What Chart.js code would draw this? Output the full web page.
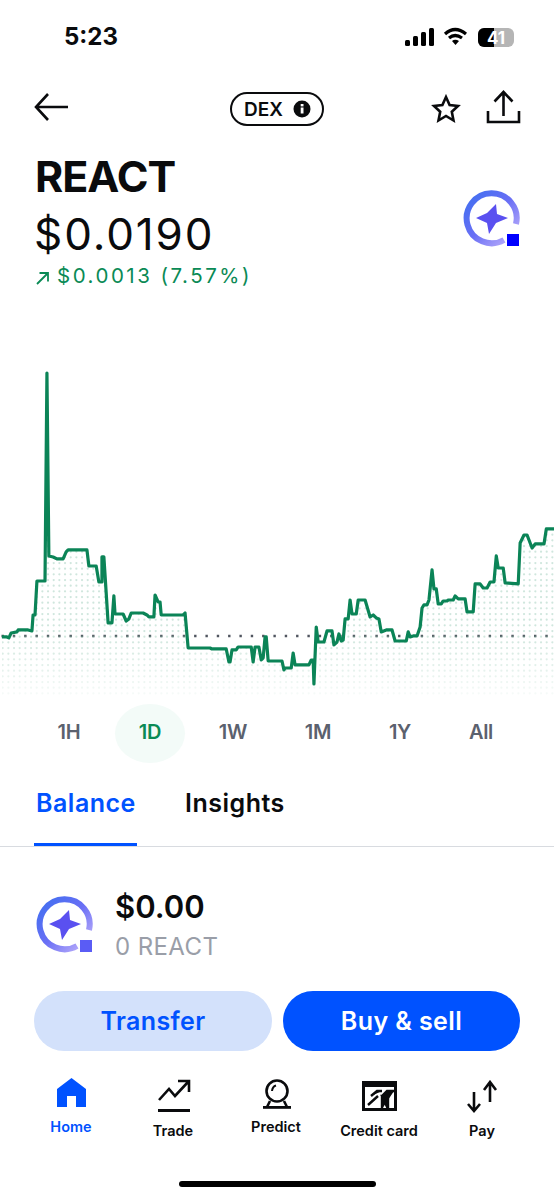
<!DOCTYPE html>
<html>
<head>
<meta charset="utf-8">
<title>REACT</title>
<script src="https://cdn.jsdelivr.net/npm/chart.js@4/dist/chart.umd.min.js"></script>
<style>
html, body { margin: 0; padding: 0; background: #fff; overflow: hidden; }
#page { position: relative; width: 554px; height: 1199px; font-family: Inter, "Noto Sans", sans-serif; color: #0a0b0d; overflow: hidden; }
#page > * { position: absolute; }
.t { white-space: nowrap; line-height: 1; }
.c { transform: translateX(-50%); }
.range { top: 722px; font-size: 20px; font-weight: 600; color: #5b616e; letter-spacing: -0.3px; }
.nav { font-size: 14.5px; font-weight: 600; }
#chartBox { left: 0; top: 360px; width: 554px; height: 340px; }
.btn { top: 991px; height: 60px; border-radius: 30px; text-align: center; line-height: 60px; font-size: 25px; font-weight: 600; letter-spacing: 0.4px; }
</style>
</head>
<body>
<div id="page">
  <div class="t" style="left:64px;top:25px;font-size:24px;font-weight:700;">5:23</div>
  <svg style="left:404px;top:26px" width="114" height="24" viewBox="0 0 114 24">
    <rect x="1" y="14" width="5" height="6" rx="1.5" fill="#000"/><rect x="9" y="10" width="5" height="10" rx="1.5" fill="#000"/>
    <rect x="17" y="6" width="5" height="14" rx="1.5" fill="#000"/><rect x="25" y="2" width="5" height="18" rx="1.5" fill="#000"/>
    <path d="M41 8 Q51 -1 62 8 M45 12 Q51 7 58 12" fill="none" stroke="#000" stroke-width="3.2"/><path d="M48 15 Q51 12.5 55 15 L51.5 19 Z" fill="#000"/>
    <rect x="74" y="2" width="36" height="19" rx="6" fill="#b5b5b5"/><path d="M80 2 H90 V21 H80 A6 6 0 0 1 74 15 V8 A6 6 0 0 1 80 2 Z" fill="#000"/>
    <text x="92" y="17.5" text-anchor="middle" font-family="Inter" font-size="17" font-weight="700" fill="#fff">41</text>
  </svg>

  <svg style="left:34px;top:92px" width="36" height="30" viewBox="0 0 36 30"><path d="M14 2 L2 15 L14 28 M2 15 H34" fill="none" stroke="#0a0b0d" stroke-width="2.6"/></svg>
  <div style="left:230px;top:92px;width:90px;height:30px;border:2px solid #0a0b0d;border-radius:17px;"></div>
  <div class="t" style="left:244px;top:100px;font-size:19px;font-weight:600;">DEX</div>
  <svg style="left:293px;top:100px" width="18" height="18" viewBox="0 0 18 18"><circle cx="9" cy="9" r="8.5" fill="#0a0b0d"/><rect x="7.7" y="7.5" width="2.8" height="6" fill="#fff"/><rect x="7.7" y="4" width="2.8" height="2.4" fill="#fff"/></svg>
  <svg style="left:431px;top:94px" width="30" height="30" viewBox="0 0 30 30"><path d="M15 3 L18.6 11 L27 12 L20.8 17.8 L22.5 26.5 L15 22 L7.5 26.5 L9.2 17.8 L3 12 L11.4 11 Z" fill="none" stroke="#0a0b0d" stroke-width="2.6"/></svg>
  <svg style="left:486px;top:90px" width="36" height="34" viewBox="0 0 36 34"><path d="M2 21 V32 H33 V21 M17.5 26 V3 M8.5 11.5 L17.5 2 L26.5 11.5" fill="none" stroke="#0a0b0d" stroke-width="2.6"/></svg>

  <div class="t" style="left:35px;top:155px;font-size:43px;font-weight:700;letter-spacing:-1px;">REACT</div>
  <div class="t" style="left:34px;top:212px;font-size:44px;font-weight:400;letter-spacing:1.9px;">$0.0190</div>
  <svg style="left:35px;top:270px" width="16" height="16" viewBox="0 0 16 16"><path d="M2 14 L13 3 M4.5 3 H13 V11.5" fill="none" stroke="#0a8a55" stroke-width="1.8"/></svg>
  <div class="t" style="left:57px;top:266px;font-size:20.5px;color:#0a8a55;letter-spacing:2.5px;">$0.0013 (7.57%)</div>

  <svg style="left:462px;top:189px" width="60" height="60" viewBox="0 0 60 60">
    <defs><linearGradient id="g1" x1="0" y1="0" x2="1" y2="1"><stop offset="0" stop-color="#3f6ff0"/><stop offset="0.5" stop-color="#6a6ff5"/><stop offset="1" stop-color="#c4b5fb"/></linearGradient></defs>
    <path d="M42 51 A25 25 0 1 1 54 35" fill="none" stroke="url(#g1)" stroke-width="6"/>
    <path d="M34 15 L35 25 L46 29 L34 34 L27 45 L25 34 L14 29 L25 24 Z" fill="#5a50f0"/>
    <rect x="45" y="45" width="12" height="12" fill="#0000ff"/>
  </svg>

  <div id="chartBox"><canvas id="chart" width="554" height="340"></canvas></div>

  <div style="left:115px;top:704px;width:70px;height:59px;border-radius:50%;background:#f3fbf8;"></div>
  <div class="t range c" style="left:69px;">1H</div>
  <div class="t range c" style="left:150px;color:#0a8a55;">1D</div>
  <div class="t range c" style="left:233px;">1W</div>
  <div class="t range c" style="left:318px;">1M</div>
  <div class="t range c" style="left:400px;">1Y</div>
  <div class="t range c" style="left:481px;">All</div>

  <div class="t" style="left:36px;top:791px;font-size:25px;font-weight:600;color:#0052ff;letter-spacing:0.5px;">Balance</div>
  <div class="t" style="left:185px;top:791px;font-size:25px;font-weight:600;letter-spacing:0.5px;">Insights</div>
  <div style="left:0;top:846px;width:554px;height:1px;background:#d8dbe0;"></div>
  <div style="left:34px;top:843px;width:103px;height:3px;background:#0052ff;"></div>

  <svg style="left:35px;top:895px" width="60" height="60" viewBox="0 0 60 60">
    <path d="M42 51 A25 25 0 1 1 54 35" fill="none" stroke="url(#g1)" stroke-width="6"/>
    <path d="M34 15 L35 25 L46 29 L34 34 L27 45 L25 34 L14 29 L25 24 Z" fill="#5a50f0"/>
    <rect x="45" y="45" width="12" height="12" fill="#5a5cf5"/>
  </svg>
  <div class="t" style="left:115px;top:891px;font-size:31px;font-weight:600;">$0.00</div>
  <div class="t" style="left:115px;top:935px;font-size:24px;color:#9a9ea8;letter-spacing:0.4px;">0 REACT</div>

  <div class="btn" style="left:34px;width:238px;background:#d3e1fb;color:#0052ff;">Transfer</div>
  <div class="btn" style="left:283px;width:237px;background:#0052ff;color:#fff;">Buy &amp; sell</div>

  <svg style="left:56px;top:1078px" width="31" height="30" viewBox="0 0 31 30"><path d="M15.5 0 L30 11 V29 H20 V18 H11 V29 H1 V11 Z" fill="#0052ff"/></svg>
  <div class="t nav c" style="left:71px;top:1120px;color:#0052ff;">Home</div>
  <svg style="left:157px;top:1079px" width="34" height="34" viewBox="0 0 34 34"><path d="M2 21 L12 10 L18 17 L31 3 M21 2 H32 V13" fill="none" stroke="#0a0b0d" stroke-width="2.6"/><rect x="1" y="30" width="32" height="3" fill="#0a0b0d"/></svg>
  <div class="t nav c" style="left:173px;top:1124px;">Trade</div>
  <svg style="left:262px;top:1078px" width="30" height="32" viewBox="0 0 30 32"><circle cx="15" cy="13" r="10.5" fill="none" stroke="#0a0b0d" stroke-width="2.6"/><path d="M8 23 L5 29 M22 23 L25 29" stroke="#0a0b0d" stroke-width="2.6"/><rect x="1" y="28" width="28" height="2.8" fill="#0a0b0d"/><path d="M10 13 Q10.5 8.5 14 7.5" fill="none" stroke="#0a0b0d" stroke-width="2"/></svg>
  <div class="t nav c" style="left:276px;top:1120px;">Predict</div>
  <svg style="left:362px;top:1081px" width="36" height="30" viewBox="0 0 36 30"><rect x="1.5" y="1.5" width="32" height="27" fill="none" stroke="#0a0b0d" stroke-width="3"/><rect x="1" y="1" width="34" height="5" fill="#0a0b0d"/><path d="M9 15 L15 10 H20 M6 24 L16 15 M20 28 V15 L25 10 H32 M20 15 H26 V28 Z" fill="#0a0b0d" stroke="#0a0b0d" stroke-width="2.4"/></svg>
  <div class="t nav c" style="left:379px;top:1124px;">Credit card</div>
  <svg style="left:466px;top:1080px" width="34" height="34" viewBox="0 0 34 34"><path d="M8 12 V30 M2 24 L8 31 L14 24 M24 22 V3 M18 10 L24 2 L30 10" fill="none" stroke="#0a0b0d" stroke-width="2.6"/></svg>
  <div class="t nav c" style="left:482px;top:1124px;">Pay</div>

  <div style="left:179px;top:1181px;width:197px;height:6px;border-radius:3px;background:#000;"></div>
</div>

<script>
// minutes since the start of the 1D window
const minutes = [5, 18, 23, 29, 44, 47, 73, 83, 86, 91, 96, 117, 122, 127, 138, 148, 164, 172, 177, 226, 231, 250, 257, 263, 265, 270,
    281, 291, 296, 299, 320, 328, 335, 341, 372, 382, 387, 400, 403, 411, 416, 419, 476, 481, 489,
    546, 551, 588, 595, 598, 603, 614, 619, 653, 658, 663, 673, 679, 684, 689, 692, 697, 733, 738, 741, 757, 762, 767, 803, 809, 814, 816, 822,
    827, 842, 850, 863, 868, 876, 881, 887, 892, 897, 905, 910, 915, 926, 931, 949,
    962, 970, 978, 985, 991, 1004, 1019, 1027, 1056, 1061, 1066, 1074, 1084, 1092, 1097, 1102, 1110, 1115, 1123, 1128, 1134, 1139, 1147, 1152, 1162, 1165, 1178, 1183, 1191, 1209,
    1214, 1230, 1235, 1248, 1256, 1266, 1274, 1284, 1290, 1295, 1308, 1313, 1347, 1352, 1362, 1370, 1383, 1391, 1414, 1420, 1440];
const prices = [.017688, .017688, .017676, .017736, .017749, .017773, .017773, .017761, .017955, .017955, .018368, .018368, .020895, .018672, .018660, .018636, .018636, .018721, .018745, .018745, .018550, .018550, .018356, .018356, .018660, .018660,
    .017858, .017858, .018186, .017967, .017967, .017882, .017907, .017979, .017979, .017955, .017931, .017931, .018198, .018113, .018113, .017955, .017955, .017979, .017554,
    .017554, .017542, .017542, .017384, .017384, .017530, .017530, .017566, .017566, .017384, .017566, .017566, .017408, .017433, .017688, .017688, .017396, .017396, .017287, .017311, .017311, .017493, .017348, .017348, .017408, .017408, .017117, .017809,
    .017627, .017627, .017761, .017761, .017591, .017627, .017724, .017639, .017651, .017907, .017907, .018137, .017967, .017967, .018137, .018137,
    .017931, .017955, .017919, .017907, .017749, .017773, .017773, .017639, .017639, .017749, .017688, .017700, .017700, .017809, .018040, .018077, .018077, .018137, .018502, .018271, .018271, .018089, .018089, .018125, .018125, .018137, .018137, .018186, .018150, .018150,
    .017992, .017992, .018332, .018332, .018283, .018283, .018356, .018356, .018672, .018526, .018526, .018344, .018332, .018830, .018927, .018927, .018769, .018818, .018818, .019000, .019000];
const previousClose = [0.0177, 0.0177];
const previousCloseMinutes = [0, 1440];

function dotPattern(ctx) {
    // tile of faded dots, one full chart tall so the fade follows the canvas
    const tile = document.createElement('canvas');
    tile.width = 34;
    tile.height = 340;
    const t = tile.getContext('2d');
    const step = 34 / 6;
    for (let row = -50; row < 12; row++) {
        const y = 276.7 + row * step;
        if (y < 0 || y > 338) continue;
        const alpha = y < 276 ? 0.38 : Math.max(0, 0.38 - (y - 276) / 62 * 0.32);
        t.fillStyle = 'rgba(130,190,165,' + alpha + ')';
        for (let col = 0; col < 6; col++) {
            t.beginPath();
            t.arc(col * step + 2.7, y, 1.1, 0, Math.PI * 2);
            t.fill();
        }
    }
    return ctx.createPattern(tile, 'repeat');
}

const canvas = document.getElementById('chart');
const ctx = canvas.getContext('2d');

new Chart(ctx, {
    type: 'line',
    data: {
        datasets: [{
            data: minutes.map((m, i) => ({x: m, y: prices[i]})),
            borderColor: '#0b8457',
            borderWidth: 3.2,
            borderJoinStyle: 'round',
            backgroundColor: dotPattern(ctx),
            fill: 'start',
            tension: 0,
            pointRadius: 0,
            order: 1
        }, {
            data: previousCloseMinutes.map((m, i) => ({x: m, y: previousClose[i]})),
            borderColor: '#50555f',
            borderWidth: 2.4,
            borderDash: [2.4, 8.93],
            borderDashOffset: -1.5,
            fill: false,
            pointRadius: 0,
            order: 2
        }]
    },
    options: {
        responsive: false,
        animation: false,
        events: [],
        layout: {padding: 0},
        plugins: {legend: {display: false}, tooltip: {enabled: false}},
        scales: {
            x: {type: 'linear', display: false, min: 0, max: 1440},
            y: {display: false, min: 0.016922, max: 0.021053}
        }
    }
});
</script>
</body>
</html>
